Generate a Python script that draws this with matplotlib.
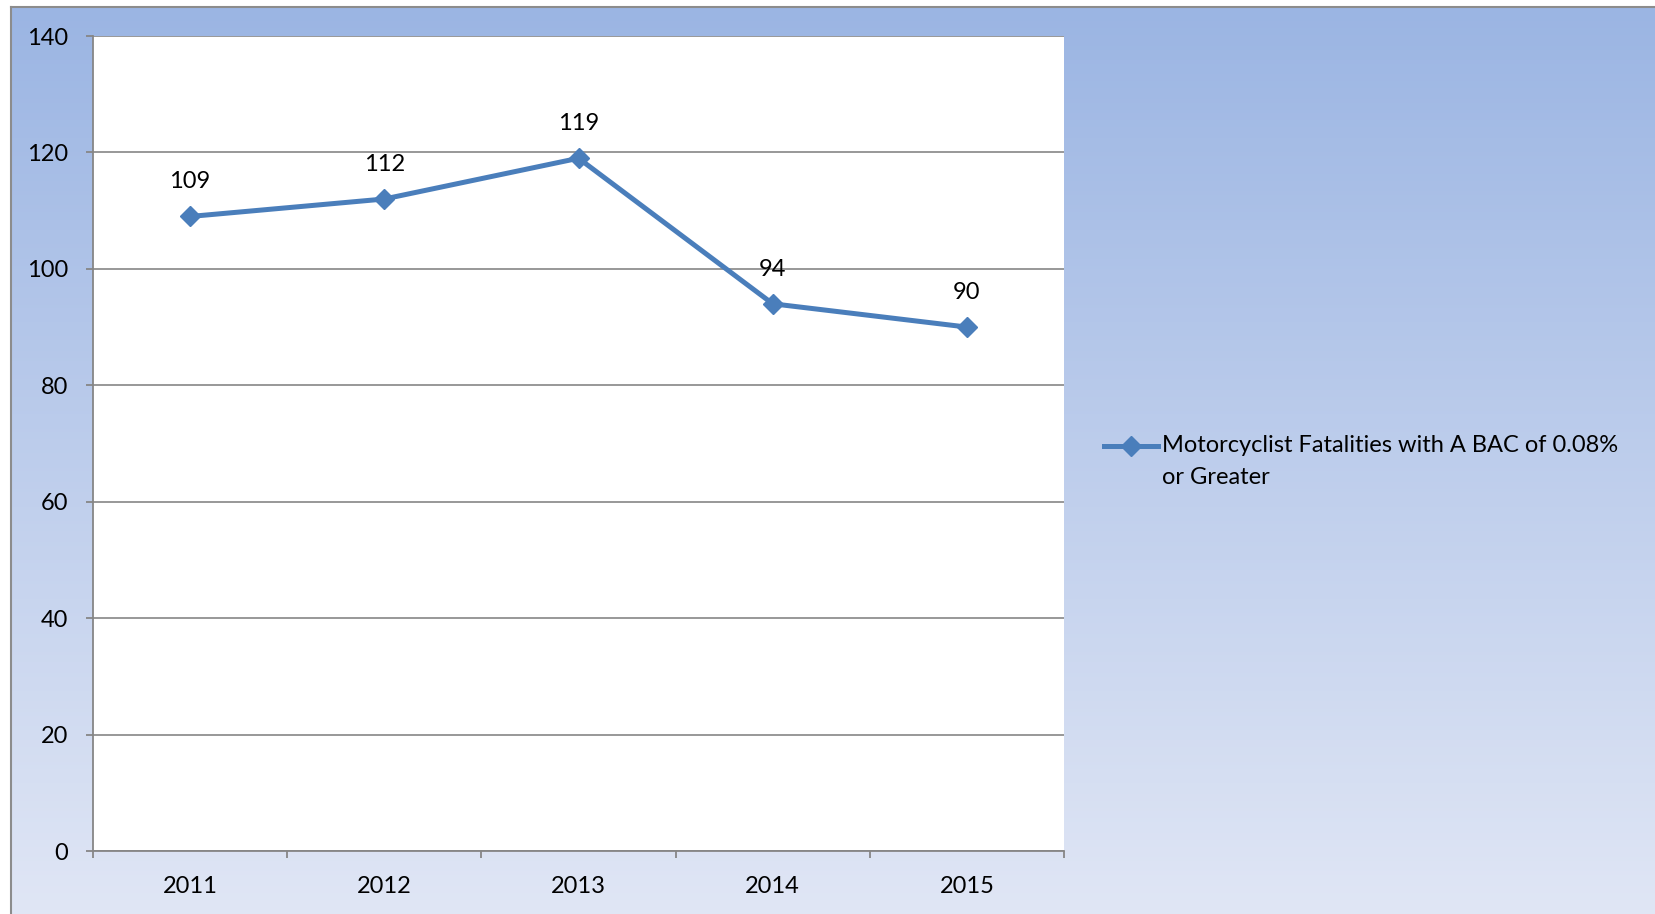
import matplotlib
matplotlib.use("Agg")
import matplotlib.pyplot as plt
import numpy as np
from matplotlib.lines import Line2D

years = ["2011", "2012", "2013", "2014", "2015"]
fatalities = [109, 112, 119, 94, 90]
series_label = "Motorcyclist Fatalities with A BAC of 0.08%\nor Greater"
y_ticks = [0, 20, 40, 60, 80, 100, 120, 140]

W, H = 1656, 914
FS = 17
plt.rcParams["font.family"] = ["Lato", "DejaVu Sans"]

fig = plt.figure(figsize=(W / 100, H / 100), dpi=100)
fig.patch.set_facecolor("white")

# ── chart area gradient background ─────────────────────────
bg = fig.add_axes([11 / W, 0, 1 - 11 / W, 1 - 7 / H], zorder=0)
top_c = np.array([155, 181, 227]) / 255
bot_c = np.array([224, 230, 245]) / 255
t = np.linspace(0, 1, 256)[:, None]
grad = top_c[None, :] * (1 - t) + bot_c[None, :] * t
bg.imshow(grad[:, None, :], aspect="auto", extent=[0, 1, 0, 1])
bg.set_xlim(0, 1)
bg.set_ylim(0, 1)
bg.axis("off")
# border lines (left and top)
fig.add_artist(Line2D([11 / W, 11 / W], [0, 1 - 7 / H], color="#8c8c8c", lw=1.5))
fig.add_artist(Line2D([11 / W, 1], [1 - 7 / H, 1 - 7 / H], color="#8c8c8c", lw=1.5))

# ── plot area ──────────────────────────────────────────────
ax = fig.add_axes([93 / W, 1 - 851 / H, (1064 - 93) / W, (851 - 36) / H], zorder=1)
ax.set_facecolor("white")
x = np.arange(len(years))
ax.plot(x, fatalities, color="#4a7ebb", lw=3.6, marker="D", markersize=10,
        zorder=3, clip_on=False)
for xi, v in zip(x, fatalities):
    ax.annotate(str(v), (xi, v), xytext=(0, 25), textcoords="offset points",
                ha="center", va="center", fontsize=FS, color="black")

ax.set_xlim(-0.5, len(years) - 0.5)
ax.set_ylim(0, 140)
ax.set_yticks(y_ticks)
ax.set_yticklabels([str(v) for v in y_ticks], fontsize=FS)
ax.set_xticks(x)
ax.set_xticklabels(years, fontsize=FS)
ax.set_xticks(np.arange(-0.5, len(years)), minor=True)
ax.tick_params(axis="x", which="major", length=0, pad=18)
ax.tick_params(axis="x", which="minor", length=5, width=1.3, color="#868686")
ax.tick_params(axis="y", length=5, width=1.3, color="#868686", pad=13)
ax.grid(axis="y", color="#868686", lw=1.2)
ax.set_axisbelow(True)
for s in ["top", "right"]:
    ax.spines[s].set_visible(False)
for s in ["left", "bottom"]:
    ax.spines[s].set_color("#868686")
    ax.spines[s].set_linewidth(1.3)

# ── legend ─────────────────────────────────────────────────
ly = 1 - 446 / H
fig.add_artist(Line2D([1104 / W, 1158 / W], [ly, ly], color="#4a7ebb", lw=3.6))
fig.add_artist(Line2D([1131 / W], [ly], color="#4a7ebb", marker="D", markersize=10))
for i, line in enumerate(series_label.split("\n")):
    fig.text(1162 / W, ly - i * 32 / H, line, ha="left", va="center", fontsize=FS)

fig.savefig("out.png", dpi=100, facecolor="white")
